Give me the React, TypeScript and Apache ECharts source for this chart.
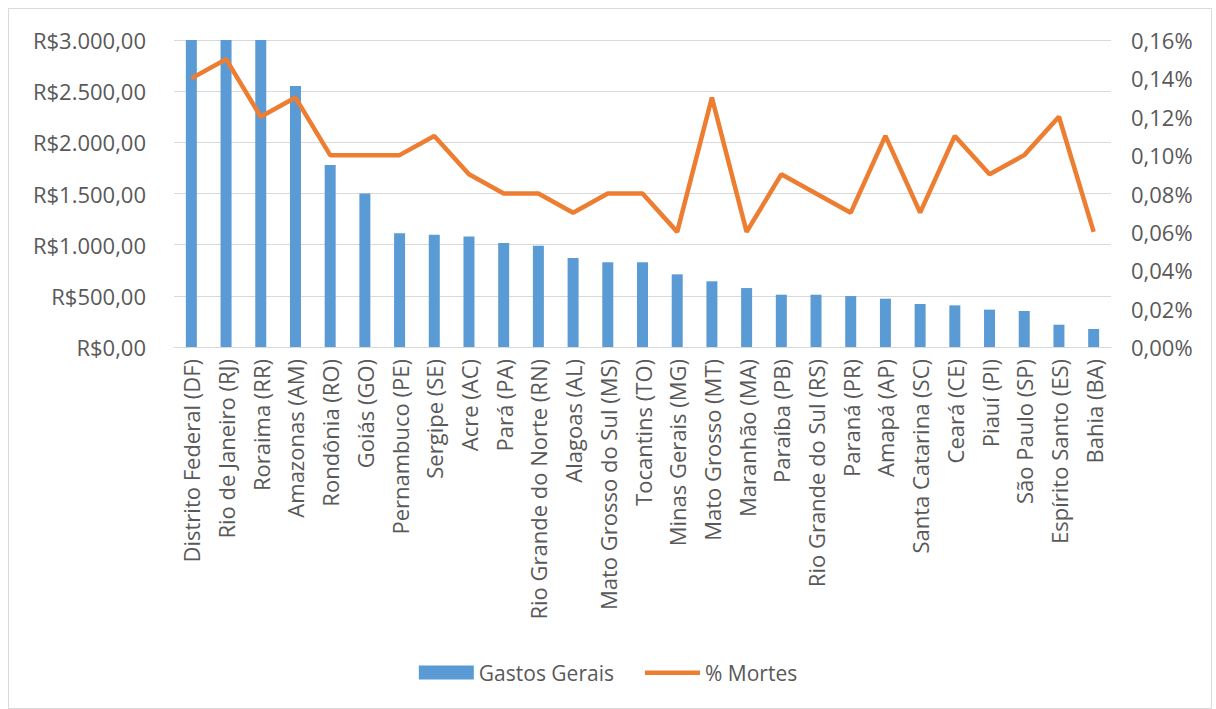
import React, { useEffect, useRef } from "react";
import * as echarts from "echarts";

const categories = [
  "Distrito Federal (DF)", "Rio de Janeiro (RJ)", "Roraima (RR)", "Amazonas (AM)", "Rondônia (RO)",
  "Goiás (GO)", "Pernambuco (PE)", "Sergipe (SE)", "Acre (AC)", "Pará (PA)",
  "Rio Grande do Norte (RN)", "Alagoas (AL)", "Mato Grosso do Sul (MS)", "Tocantins (TO)", "Minas Gerais (MG)",
  "Mato Grosso (MT)", "Maranhão (MA)", "Paraíba (PB)", "Rio Grande do Sul (RS)", "Paraná (PR)",
  "Amapá (AP)", "Santa Catarina (SC)", "Ceará (CE)", "Piauí (PI)", "São Paulo (SP)",
  "Espírito Santo (ES)", "Bahia (BA)",
];

const gastosGerais = [
  3600, 3400, 3200, 2550, 1778, 1500, 1111, 1097, 1081, 1016,
  990, 870, 828, 828, 710, 642, 576, 511, 511, 498,
  472, 420, 407, 365, 352, 218, 176,
];

const mortesPct = [
  0.14, 0.15, 0.12, 0.13, 0.10, 0.10, 0.10, 0.11, 0.09, 0.08,
  0.08, 0.07, 0.08, 0.08, 0.06, 0.13, 0.06, 0.09, 0.08, 0.07,
  0.11, 0.07, 0.11, 0.09, 0.10, 0.12, 0.06,
];

const leftTicks = { min: 0, max: 3000, interval: 500 };
const rightTicks = { min: 0, max: 0.16, interval: 0.02 };

const FONT = "'Open Sans', 'Noto Sans', sans-serif";
const TEXT = "#595959";

const LINE_ICON =
  "path://M0,0 L0.01,0 L0,0.01 Z M55,14 L54.99,14 L55,13.99 Z M0,5 L55,5 L55,9.5 L0,9.5 Z";

function fmtMoney(v: number) {
  const s = Math.round(v).toString().replace(/\B(?=(\d{3})+(?!\d))/g, ".");
  return "R$" + s + ",00";
}

export default function App() {
  const ref = useRef<HTMLDivElement>(null);
  useEffect(() => {
    if (!ref.current) return;
    const chart = echarts.init(ref.current, null, { renderer: "svg" });
    chart.setOption({
      animation: false,
      backgroundColor: "#ffffff",
      graphic: [
        {
          type: "rect",
          shape: { x: 8.5, y: 8.5, width: 1203, height: 700 },
          style: { fill: "none", stroke: "#d9d9d9", lineWidth: 1 },
          silent: true,
        },
      ],
      grid: { left: 174, right: 105, top: 40, bottom: 362 },
      legend: {
        top: 657,
        left: "center",
        itemGap: 31,
        itemWidth: 55,
        itemHeight: 14,
        textStyle: { fontFamily: FONT, fontSize: 21, color: TEXT },
        data: [
          { name: "Gastos Gerais", icon: "rect" },
          { name: "% Mortes", icon: LINE_ICON, itemStyle: { color: "#ED7D31" } },
        ],
      },
      xAxis: {
        type: "category",
        data: categories,
        axisTick: { show: false },
        axisLine: { lineStyle: { color: "#d9d9d9" } },
        axisLabel: {
          rotate: 90,
          interval: 0,
          margin: 12,
          color: TEXT,
          fontFamily: FONT,
          fontSize: 22,
        },
      },
      yAxis: [
        {
          type: "value",
          ...leftTicks,
          axisLine: { show: false },
          axisTick: { show: false },
          splitLine: { lineStyle: { color: "#d9d9d9", width: 1 } },
          axisLabel: {
            margin: 28,
            color: TEXT,
            fontFamily: FONT,
            fontSize: 22,
            formatter: (v: number) => fmtMoney(v),
          },
        },
        {
          type: "value",
          ...rightTicks,
          position: "right",
          axisLine: { show: false },
          axisTick: { show: false },
          splitLine: { show: false },
          axisLabel: {
            margin: 20,
            color: TEXT,
            fontFamily: FONT,
            fontSize: 22,
            formatter: (v: number) => v.toFixed(2).replace(".", ",") + "%",
          },
        },
      ],
      series: [
        {
          name: "Gastos Gerais",
          type: "bar",
          data: gastosGerais,
          barWidth: 11,
          clip: true,
          itemStyle: { color: "#5B9BD5" },
        },
        {
          name: "% Mortes",
          type: "line",
          yAxisIndex: 1,
          data: mortesPct,
          symbol: "none",
          lineStyle: { color: "#ED7D31", width: 4.5 },
          itemStyle: { color: "#ED7D31" },
        },
      ],
    });
    return () => chart.dispose();
  }, []);
  return (
    <div
      ref={ref}
      style={{ position: "absolute", left: 0, top: 0, width: 1216, height: 709 }}
    />
  );
}
